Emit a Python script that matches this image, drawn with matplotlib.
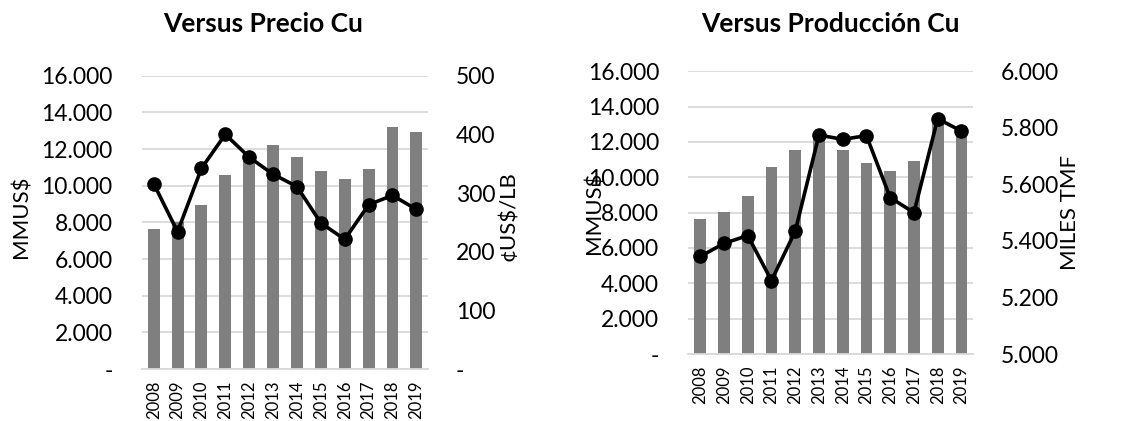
#!/usr/bin/env python3
"""Excel-style combo charts: bars (MMUS$) versus copper price and production."""

import matplotlib
matplotlib.use("Agg")
import matplotlib.pyplot as plt
from matplotlib.ticker import FuncFormatter

years = [str(y) for y in range(2008, 2020)]
mmus = [7650, 8030, 8950, 10570, 11560, 12240, 11560, 10780, 10370, 10910, 13200, 12910]
precio_cu = [316, 234, 342, 400, 361, 332, 311, 249, 221, 280, 296, 272]
produccion_cu = [5345, 5391, 5419, 5260, 5434, 5774, 5759, 5772, 5553, 5500, 5832, 5788]

plt.rcParams["font.family"] = ["Lato", "DejaVu Sans"]

BAR = "#7f7f7f"
GRID = "#d9d9d9"


def fmt(v, _pos=None):
    if abs(v) < 1e-9:
        return "-"
    return f"{v:,.0f}".replace(",", ".")


def combo(fig, rect, line, rlim, rticks, title, rlabel, lab_l, lab_r, title_x):
    ax = fig.add_axes(rect)
    x = range(len(years))
    ax.bar(x, mmus, width=0.5, color=BAR, zorder=2)
    ax.set_xlim(-0.5, len(years) - 0.5)
    ax.set_ylim(0, 16000)
    ax.set_yticks(range(0, 16001, 2000))
    ax.yaxis.set_major_formatter(FuncFormatter(fmt))
    ax.set_xticks(list(x))
    ax.set_xticklabels(years, rotation=90, fontsize=12)
    ax.grid(axis="y", color=GRID, linewidth=1.3, zorder=0)
    for s in ["top", "left", "right"]:
        ax.spines[s].set_visible(False)
    ax.spines["bottom"].set_color(GRID)
    ax.spines["bottom"].set_linewidth(1.3)
    ax.tick_params(axis="both", length=0)
    ax.tick_params(axis="y", labelsize=16.5, pad=21)
    ax.tick_params(axis="x", pad=8)
    ax.set_ylabel("MMUS$", fontsize=16)
    ax.yaxis.set_label_coords(*lab_l)

    ax2 = ax.twinx()
    ax2.plot(list(x), line, color="black", linewidth=2.6, marker="o",
             markersize=9.5, zorder=3)
    ax2.set_ylim(*rlim)
    ax2.set_yticks(rticks)
    ax2.yaxis.set_major_formatter(FuncFormatter(fmt))
    for s in ax2.spines.values():
        s.set_visible(False)
    ax2.tick_params(axis="y", length=0, labelsize=16.5, pad=20)
    ax2.set_ylabel(rlabel, fontsize=16)
    ax2.yaxis.set_label_coords(*lab_r)

    fig.text(title_x, 1 - 24 / 421, title, ha="center", va="center",
             fontsize=19, fontweight="bold")
    return ax


fig = plt.figure(figsize=(11.34, 4.21), dpi=100)

combo(fig, [0.125, 0.1235, 0.2527, 0.6967], precio_cu, (0, 500),
      range(0, 501, 100), "Versus Precio Cu", "¢US$/LB",
      (-0.385, 0.52), (1.245, 0.52), 263 / 1134)

combo(fig, [0.607, 0.159, 0.2513, 0.672], produccion_cu, (5000, 6000),
      range(5000, 6001, 200), "Versus Producción Cu", "MILES TMF",
      (-0.295, 0.5), (1.305, 0.5), 830 / 1134)

fig.savefig("out.png", dpi=100, facecolor="white")
